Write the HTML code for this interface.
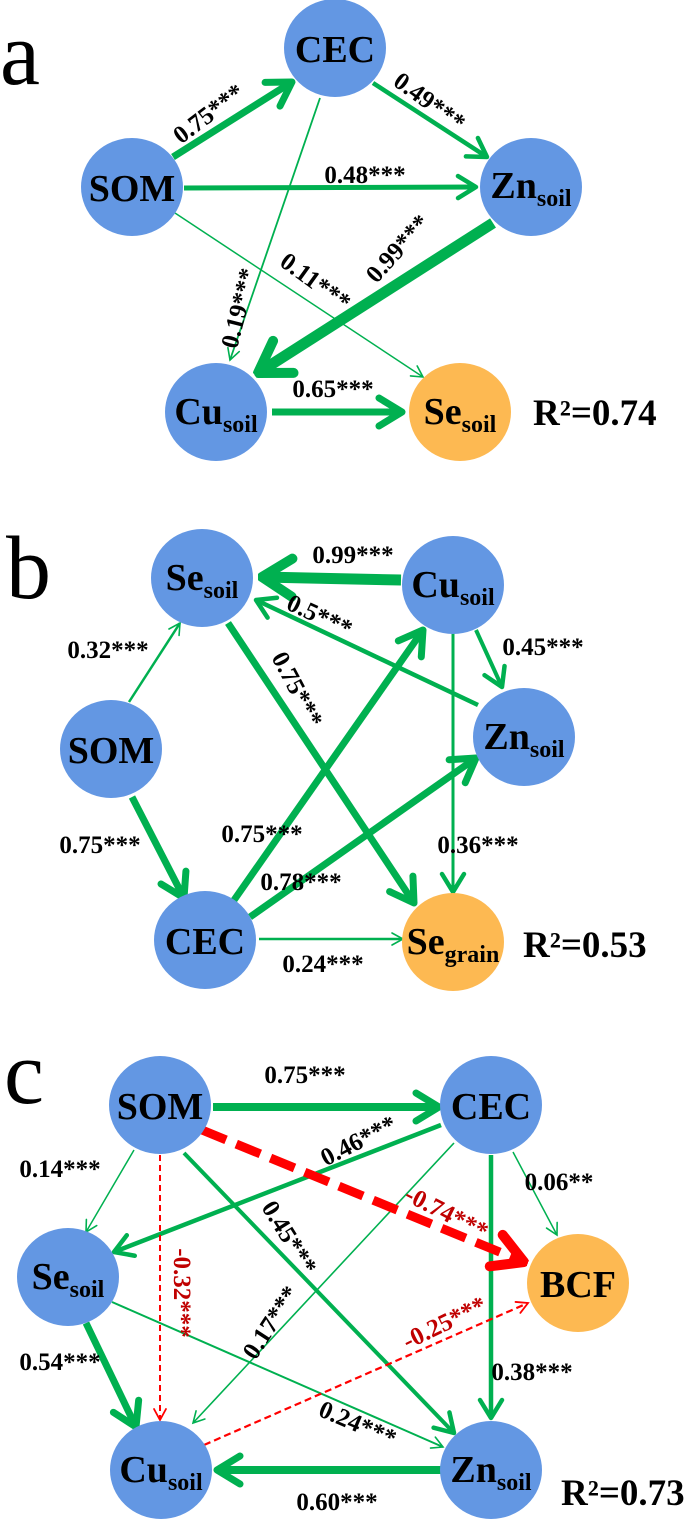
<!DOCTYPE html>
<html><head><meta charset="utf-8"><style>
html,body{margin:0;padding:0;background:#fff}
svg{display:block}
text{font-family:"Liberation Serif",serif;font-weight:bold}
.n{font-size:38px;fill:#000}
.l{font-size:25px;fill:#000}
.r{font-size:25px;fill:#C00000}
.g{stroke:#00B050;fill:none}
.d{stroke:#FF0000;fill:none}
</style></head><body>
<svg width="685" height="1519" viewBox="0 0 685 1519" xmlns="http://www.w3.org/2000/svg">
<defs>
<marker id="s" markerUnits="userSpaceOnUse" viewBox="-14 -9 16 18" refX="0" refY="0" markerWidth="16" markerHeight="18" orient="auto"><path d="M-11,-6 L0,0 L-11,6" fill="none" stroke="#00B050" stroke-width="1.6" stroke-linecap="round"/></marker>
<marker id="m" markerUnits="userSpaceOnUse" viewBox="-22 -14 26 28" refX="0" refY="0" markerWidth="26" markerHeight="28" orient="auto"><path d="M-18,-11 L0,0 L-18,11" fill="none" stroke="#00B050" stroke-width="4.5" stroke-linecap="round" stroke-linejoin="round"/></marker>
<marker id="b" markerUnits="userSpaceOnUse" viewBox="-28 -18 32 36" refX="0" refY="0" markerWidth="32" markerHeight="36" orient="auto"><path d="M-23,-14 L0,0 L-23,14" fill="none" stroke="#00B050" stroke-width="7" stroke-linecap="round" stroke-linejoin="round"/></marker>
<marker id="x" markerUnits="userSpaceOnUse" viewBox="-36 -24 40 48" refX="0" refY="0" markerWidth="40" markerHeight="48" orient="auto"><path d="M-30,-19 L0,0 L-30,19" fill="none" stroke="#00B050" stroke-width="10" stroke-linecap="round" stroke-linejoin="round"/></marker>
<marker id="rs" markerUnits="userSpaceOnUse" viewBox="-14 -9 16 18" refX="0" refY="0" markerWidth="16" markerHeight="18" orient="auto"><path d="M-11,-6 L0,0 L-11,6" fill="none" stroke="#FF0000" stroke-width="1.8" stroke-linecap="round"/></marker>
<marker id="rx" markerUnits="userSpaceOnUse" viewBox="-36 -24 40 48" refX="0" refY="0" markerWidth="40" markerHeight="48" orient="auto"><path d="M-30,-17 L0,0 L-30,17" fill="none" stroke="#FF0000" stroke-width="10" stroke-linecap="round" stroke-linejoin="round"/></marker>
</defs>

<!-- ===== Panel a ===== -->
<text x="0" y="84" style="font-size:90px;font-weight:normal">a</text>
<line class="g" x1="173" y1="157" x2="292" y2="82" stroke-width="7" marker-end="url(#b)"/>
<line class="g" x1="373" y1="83" x2="487" y2="157" stroke-width="4.5" marker-end="url(#m)"/>
<line class="g" x1="184" y1="188" x2="476" y2="187" stroke-width="5" marker-end="url(#m)"/>
<line class="g" x1="320" y1="98" x2="230" y2="360" stroke-width="1.8" marker-end="url(#s)"/>
<line class="g" x1="175" y1="213" x2="423" y2="377" stroke-width="1.5" marker-end="url(#s)"/>
<line class="g" x1="493" y1="223" x2="258" y2="373" stroke-width="11" marker-end="url(#x)"/>
<line class="g" x1="272" y1="412" x2="402" y2="412" stroke-width="7" marker-end="url(#b)"/>

<text class="l" x="208" y="122" text-anchor="middle" transform="rotate(-37 208 113)">0.75***</text>
<text class="l" x="430" y="110" text-anchor="middle" transform="rotate(36 430 101)">0.49***</text>
<text class="l" x="365" y="183" text-anchor="middle">0.48***</text>
<text class="l" x="238" y="317" text-anchor="middle" transform="rotate(-76 238 308)">0.19***</text>
<text class="l" x="316" y="290" text-anchor="middle" transform="rotate(36 316 281)">0.11***</text>
<text class="l" x="397" y="257" text-anchor="middle" transform="rotate(-48 397 248)">0.99***</text>
<text class="l" x="333" y="397" text-anchor="middle">0.65***</text>

<ellipse cx="335" cy="48" rx="51" ry="49" fill="#6397E3"/>
<ellipse cx="132" cy="187" rx="51" ry="49" fill="#6397E3"/>
<ellipse cx="531" cy="187" rx="51" ry="49" fill="#6397E3"/>
<ellipse cx="216" cy="412" rx="51" ry="49" fill="#6397E3"/>
<ellipse cx="460" cy="412" rx="51" ry="49" fill="#FDB952"/>
<text class="n" x="335" y="62" text-anchor="middle">CEC</text>
<text class="n" x="132" y="201" text-anchor="middle">SOM</text>
<text class="n" x="531" y="198" text-anchor="middle">Zn<tspan font-size="24" dy="8">soil</tspan></text>
<text class="n" x="216" y="424" text-anchor="middle">Cu<tspan font-size="24" dy="8">soil</tspan></text>
<text class="n" x="460" y="424" text-anchor="middle">Se<tspan font-size="24" dy="8">soil</tspan></text>
<text x="533" y="425" style="font-size:37px">R²=0.74</text>

<!-- ===== Panel b ===== -->
<text x="6" y="598" style="font-size:90px;font-weight:normal">b</text>
<line class="g" x1="401" y1="580" x2="262" y2="577" stroke-width="11" marker-end="url(#x)"/>
<line class="g" x1="478" y1="705" x2="256" y2="600" stroke-width="4.5" marker-end="url(#m)"/>
<line class="g" x1="476" y1="630" x2="502" y2="687" stroke-width="4" marker-end="url(#m)"/>
<line class="g" x1="453" y1="633" x2="453" y2="892" stroke-width="3" marker-end="url(#m)"/>
<line class="g" x1="129" y1="702" x2="180" y2="623" stroke-width="2.5" marker-end="url(#s)"/>
<line class="g" x1="132" y1="797" x2="184" y2="898" stroke-width="7" marker-end="url(#b)"/>
<line class="g" x1="228" y1="623" x2="414" y2="903" stroke-width="7" marker-end="url(#b)"/>
<line class="g" x1="232" y1="903" x2="423" y2="630" stroke-width="7" marker-end="url(#b)"/>
<line class="g" x1="250" y1="917" x2="476" y2="758" stroke-width="7" marker-end="url(#b)"/>
<line class="g" x1="259" y1="939" x2="403" y2="939" stroke-width="2.5" marker-end="url(#s)"/>

<text class="l" x="353" y="563" text-anchor="middle">0.99***</text>
<text class="l" x="320" y="624" text-anchor="middle" transform="rotate(25 320 615)">0.5***</text>
<text class="l" x="543" y="655" text-anchor="middle">0.45***</text>
<text class="l" x="478" y="853" text-anchor="middle">0.36***</text>
<text class="l" x="108" y="658" text-anchor="middle">0.32***</text>
<text class="l" x="100" y="853" text-anchor="middle">0.75***</text>
<text class="l" x="298" y="698" text-anchor="middle" transform="rotate(62 298 689)">0.75***</text>
<text class="l" x="262" y="842" text-anchor="middle">0.75***</text>
<text class="l" x="301" y="890" text-anchor="middle">0.78***</text>
<text class="l" x="323" y="972" text-anchor="middle">0.24***</text>

<ellipse cx="202" cy="578" rx="51" ry="49" fill="#6397E3"/>
<ellipse cx="453" cy="585" rx="51" ry="49" fill="#6397E3"/>
<ellipse cx="111" cy="749" rx="51" ry="49" fill="#6397E3"/>
<ellipse cx="524" cy="737" rx="51" ry="49" fill="#6397E3"/>
<ellipse cx="205" cy="940" rx="51" ry="49" fill="#6397E3"/>
<ellipse cx="453" cy="942" rx="51" ry="49" fill="#FDB952"/>
<text class="n" x="202" y="590" text-anchor="middle">Se<tspan font-size="24" dy="8">soil</tspan></text>
<text class="n" x="453" y="597" text-anchor="middle">Cu<tspan font-size="24" dy="8">soil</tspan></text>
<text class="n" x="111" y="763" text-anchor="middle">SOM</text>
<text class="n" x="524" y="749" text-anchor="middle">Zn<tspan font-size="24" dy="8">soil</tspan></text>
<text class="n" x="205" y="954" text-anchor="middle">CEC</text>
<text class="n" x="453" y="954" text-anchor="middle">Se<tspan font-size="24" dy="8">grain</tspan></text>
<text x="523" y="957" style="font-size:37px">R²=0.53</text>

<!-- ===== Panel c ===== -->
<text x="4" y="1103" style="font-size:90px;font-weight:normal">c</text>
<line class="g" x1="213" y1="1107" x2="439" y2="1107" stroke-width="8" marker-end="url(#b)"/>
<line class="g" x1="441" y1="1125" x2="114" y2="1252" stroke-width="4.5" marker-end="url(#m)"/>
<line class="g" x1="134" y1="1150" x2="86" y2="1232" stroke-width="1.5" marker-end="url(#s)"/>
<line class="g" x1="184" y1="1153" x2="454" y2="1433" stroke-width="4" marker-end="url(#m)"/>
<line class="g" x1="454" y1="1143" x2="193" y2="1423" stroke-width="1.6" marker-end="url(#s)"/>
<line class="g" x1="491" y1="1155" x2="491" y2="1418" stroke-width="4.5" marker-end="url(#m)"/>
<line class="g" x1="513" y1="1152" x2="557" y2="1235" stroke-width="1.5" marker-end="url(#s)"/>
<line class="g" x1="86" y1="1323" x2="136" y2="1427" stroke-width="7" marker-end="url(#b)"/>
<line class="g" x1="112" y1="1302" x2="443" y2="1447" stroke-width="2" marker-end="url(#s)"/>
<line class="g" x1="441" y1="1470" x2="217" y2="1470" stroke-width="8" marker-end="url(#b)"/>
<line class="d" x1="160" y1="1155" x2="160" y2="1420" stroke-width="2" stroke-dasharray="6 4" marker-end="url(#rs)"/>
<line class="d" x1="204" y1="1445" x2="528" y2="1303" stroke-width="2.2" stroke-dasharray="7 4" marker-end="url(#rs)"/>
<line class="d" x1="202" y1="1130" x2="524" y2="1262" stroke-width="9" stroke-dasharray="26 11" marker-end="url(#rx)"/>

<text class="l" x="305" y="1083" text-anchor="middle">0.75***</text>
<text class="l" x="358" y="1149" text-anchor="middle" transform="rotate(-27 358 1140)">0.46***</text>
<text class="l" x="60" y="1177" text-anchor="middle">0.14***</text>
<text class="l" x="290" y="1246" text-anchor="middle" transform="rotate(58 290 1237)">0.45***</text>
<text class="l" x="270" y="1331" text-anchor="middle" transform="rotate(-57 270 1322)">0.17***</text>
<text class="l" x="532" y="1380" text-anchor="middle">0.38***</text>
<text class="l" x="559" y="1190" text-anchor="middle">0.06**</text>
<text class="l" x="60" y="1370" text-anchor="middle">0.54***</text>
<text class="l" x="358" y="1432" text-anchor="middle" transform="rotate(23 358 1423)">0.24***</text>
<text class="l" x="337" y="1510" text-anchor="middle">0.60***</text>
<text class="r" x="183" y="1302" text-anchor="middle" transform="rotate(90 183 1293)">-0.32***</text>
<text class="r" x="444" y="1331" text-anchor="middle" transform="rotate(-26 444 1322)">-0.25***</text>
<text class="r" x="447" y="1221" text-anchor="middle" transform="rotate(27 447 1212)">-0.74***</text>

<ellipse cx="160" cy="1105" rx="51" ry="49" fill="#6397E3"/>
<ellipse cx="491" cy="1105" rx="51" ry="49" fill="#6397E3"/>
<ellipse cx="68" cy="1277" rx="51" ry="49" fill="#6397E3"/>
<ellipse cx="578" cy="1283" rx="51" ry="49" fill="#FDB952"/>
<ellipse cx="161" cy="1470" rx="51" ry="49" fill="#6397E3"/>
<ellipse cx="491" cy="1470" rx="51" ry="49" fill="#6397E3"/>
<text class="n" x="160" y="1119" text-anchor="middle">SOM</text>
<text class="n" x="491" y="1119" text-anchor="middle">CEC</text>
<text class="n" x="68" y="1289" text-anchor="middle">Se<tspan font-size="24" dy="8">soil</tspan></text>
<text class="n" x="578" y="1297" text-anchor="middle">BCF</text>
<text class="n" x="161" y="1482" text-anchor="middle">Cu<tspan font-size="24" dy="8">soil</tspan></text>
<text class="n" x="491" y="1482" text-anchor="middle">Zn<tspan font-size="24" dy="8">soil</tspan></text>
<text x="561" y="1505" style="font-size:37px">R²=0.73</text>
</svg>
</body></html>
